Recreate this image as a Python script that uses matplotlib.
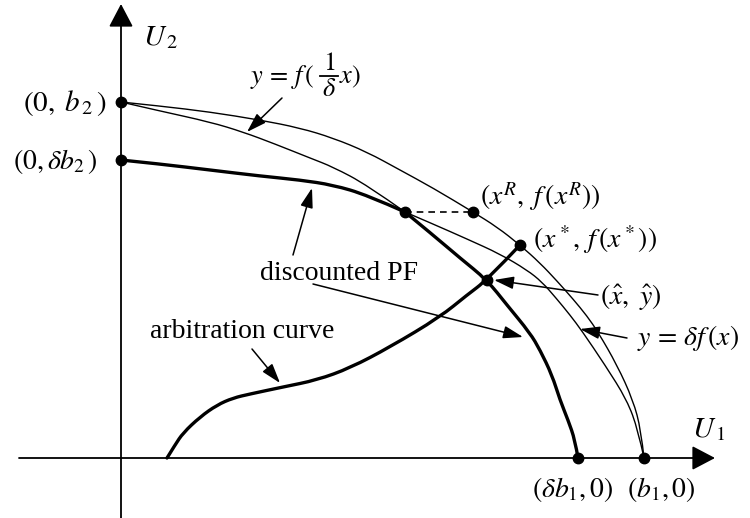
import numpy as np
import matplotlib
matplotlib.use("Agg")
import matplotlib.pyplot as plt
from matplotlib.path import Path
from matplotlib.patches import PathPatch

plt.rcParams["font.family"] = "serif"
plt.rcParams["font.serif"] = ["Liberation Serif", "DejaVu Serif"]
plt.rcParams["mathtext.fontset"] = "stix"

# utility frontier y = f(x)
f_x = [0, 39, 89, 139, 179, 212, 246, 279, 312, 352, 376, 399, 419, 436,
       452, 466, 477, 496, 512, 520, 523]
f_y = [356, 352, 346, 338, 330, 320, 306, 288, 270, 246, 231, 213, 195, 177,
       159, 142, 126, 93, 58, 28, 0]

# y = f(x / delta): thin part above the crossing, thick part below it
fd_thin_x = [0, 39, 89, 122, 154, 189, 212, 246, 284]
fd_thin_y = [356, 347, 336, 326, 314, 300, 291, 273, 246]
fd_thick_x = [284, 312, 339, 366, 386, 409, 419, 431, 439, 447, 454, 457]
fd_thick_y = [246, 223, 200, 178, 153, 125, 108, 83, 58, 38, 18, 0]

# y = delta f(x): thick part before the crossing, thin part after it
df_thick_x = [0, 39, 89, 139, 179, 212, 246, 284]
df_thick_y = [298, 294, 288, 282, 278, 273, 263, 246]
df_thin_x = [284, 312, 346, 379, 406, 421, 435, 449, 461, 484, 506, 517, 523]
df_thin_y = [246, 234, 219, 204, 188, 176, 160, 143, 127, 93, 58, 28, 0]

# arbitration curve
arb_x = [46, 54, 62, 79, 96, 112, 129, 162, 196, 229, 269, 319, 346, 366, 399]
arb_y = [0, 13, 25, 41, 53, 60, 64, 71, 78, 90, 111, 141, 163, 178, 213]

# marked points
dot_x = [0, 0, 284, 352, 399, 366, 457, 523]
dot_y = [356, 298, 246, 246, 213, 178, 0, 0]


def smooth_curve(ax, xs, ys, lw):
    # quadratic Bezier pieces: inner points act as control points,
    # pieces meet halfway between them, the two ends stay fixed
    pts = np.column_stack([xs, ys]).astype(float)
    verts = [pts[0]]
    codes = [Path.MOVETO]
    for i in range(1, len(pts) - 1):
        end = pts[i + 1] if i == len(pts) - 2 else (pts[i] + pts[i + 1]) / 2
        verts += [pts[i], end]
        codes += [Path.CURVE3, Path.CURVE3]
    if len(pts) == 2:
        verts.append(pts[1])
        codes.append(Path.LINETO)
    ax.add_patch(PathPatch(Path(verts, codes), fill=False, lw=lw,
                           edgecolor="black", capstyle="round",
                           joinstyle="round"))


fig = plt.figure(figsize=(7.5, 5.18), dpi=100)
ax = fig.add_axes([0, 0, 1, 1])
ax.set_xlim(-121, 629)
ax.set_ylim(-60, 458)
ax.axis("off")

# axes with arrow heads
axis_arrow = dict(arrowstyle="-|>,head_length=0.95,head_width=0.5",
                  mutation_scale=15, lw=1.3, color="black",
                  shrinkA=0, shrinkB=0)
ax.annotate("", xy=(0, 454), xytext=(0, -60), arrowprops=axis_arrow)
ax.annotate("", xy=(594, 0), xytext=(-102, 0), arrowprops=axis_arrow)

thin, thick = 1.0, 2.4
smooth_curve(ax, f_x, f_y, thin)
smooth_curve(ax, fd_thin_x, fd_thin_y, thin)
smooth_curve(ax, fd_thick_x, fd_thick_y, thick)
smooth_curve(ax, df_thick_x, df_thick_y, thick)
smooth_curve(ax, df_thin_x, df_thin_y, thin)
smooth_curve(ax, arb_x, arb_y, thick)
ax.plot([dot_x[2], dot_x[3]], [dot_y[2], dot_y[3]], color="black", lw=1.2,
        dashes=(4, 3))
ax.plot(dot_x, dot_y, "o", color="black", ms=7.5, zorder=5)

# pointer arrows from the labels
ptr = dict(arrowstyle="-|>,head_length=1.0,head_width=0.32",
           mutation_scale=12, lw=1.1, color="black", shrinkA=0, shrinkB=0)
pointers = [((161, 360), (126, 326)),
            ((172, 203), (191, 270)),
            ((192, 174), (402, 121)),
            ((131, 109), (159, 75)),
            ((477, 163), (373, 178)),
            ((506, 120), (459, 129))]
for start, end in pointers:
    ax.annotate("", xy=end, xytext=start, arrowprops=ptr)

fs = 20
ax.text(22, 420, r"$U_{\,2}$", fontsize=fs + 1, va="center")
ax.text(571, 28, r"$U_{\,1}$", fontsize=fs + 1, va="center")
ax.text(-14, 355, r"$(0,\;b_{\,2}\,)$", fontsize=fs + 1, ha="right",
        va="center")
ax.text(-23, 297, r"$(0,\delta b_{2}\,)$", fontsize=fs, ha="right",
        va="center")

# y = f(x/delta) written with a stacked fraction
ax.text(129, 381, r"$y\,=\,f\,($", fontsize=fs - 1, va="center")
ax.text(208, 394, r"$1$", fontsize=fs - 1, ha="center", va="center")
ax.plot([199, 217], [382, 382], color="black", lw=1.3)
ax.text(208, 368, r"$\delta$", fontsize=fs - 1, ha="center", va="center")
ax.text(218, 381, r"$x)$", fontsize=fs - 1, va="center")

ax.text(359, 262, r"$(x^R,\ f\,(x^R))$", fontsize=fs, va="center")
ax.text(412, 218, r"$(x^*,\,f\,(x^*))$", fontsize=fs, va="center")
ax.text(479, 161, r"$(\hat{x},\ \hat{y})$", fontsize=fs, va="center")
ax.text(516, 120, r"$y\,=\,\delta f\,(x)$", fontsize=fs, va="center")
ax.text(139, 185, "discounted PF", fontsize=fs, va="center")
ax.text(29, 127, "arbitration curve", fontsize=fs, va="center")
ax.text(411, -31, r"$(\delta b_1,0)$", fontsize=fs, va="center")
ax.text(506, -31, r"$(b_1,0)$", fontsize=fs, va="center")

fig.savefig("out.png", dpi=100)
